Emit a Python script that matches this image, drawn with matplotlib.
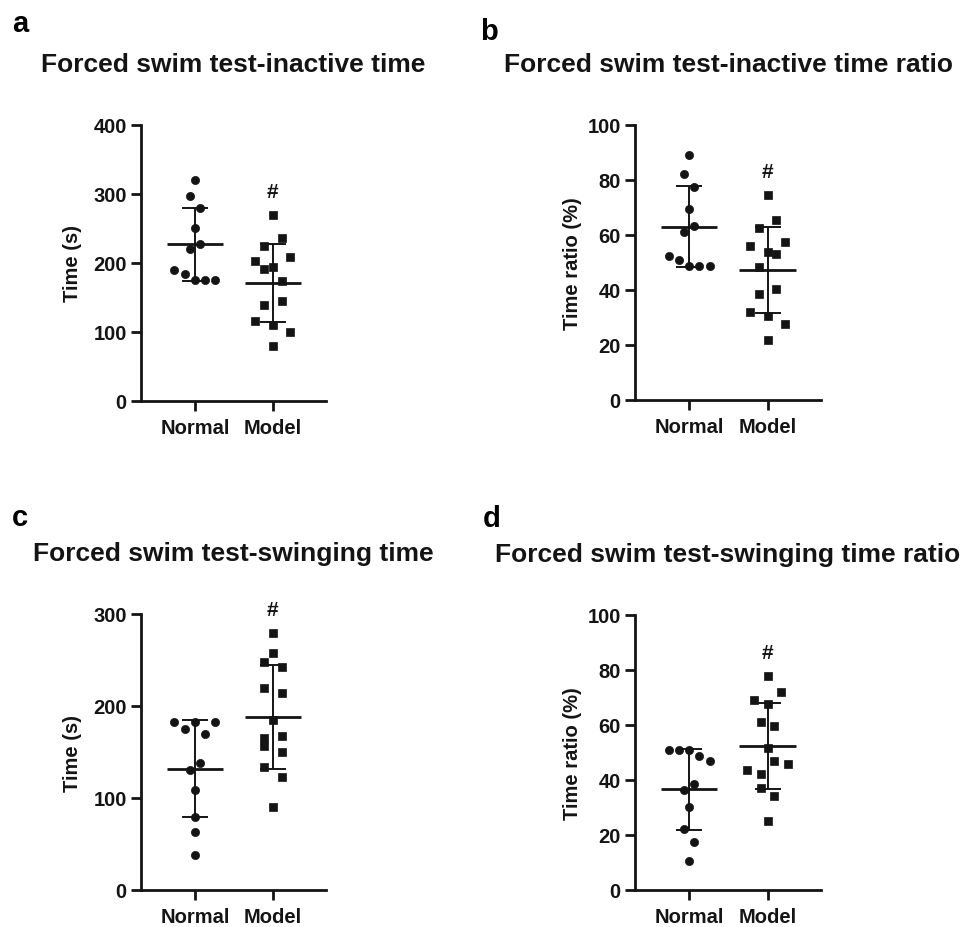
import numpy as np
import matplotlib as mpl
mpl.use('Agg')
import matplotlib.pyplot as plt

plt.rcParams['font.family'] = ['Liberation Sans', 'DejaVu Sans']
plt.rcParams['font.weight'] = 'bold'

groups = ['Normal', 'Model']

# values listed row by row, left to right inside each row of the swarm
inactive_normal = [320, 296, 279, 250, 220, 227.5, 189, 184, 175, 175, 175]
inactive_model = [269, 224.6, 236, 202, 193.7, 208, 191, 174, 139, 145, 115, 110, 100, 79]
inactive_ratio_normal = [89, 82, 77.5, 69.4, 61.1, 63.3, 52.4, 50.8, 48.8, 48.8, 48.8]
inactive_ratio_model = [74.5, 62.5, 65.5, 55.9, 53.6, 57.3, 48.4, 52.9, 38.5, 40.2, 31.8, 30.4, 27.6, 21.9]
swing_normal = [183, 174.6, 183, 169.5, 183, 130.4, 138.4, 108.7, 79, 62.7, 38]
swing_model = [279, 258, 248, 242.8, 219.6, 213.8, 184.8, 165.2, 167.8, 157, 150.5, 134, 122.5, 90]
swing_ratio_normal = [50.8, 50.8, 50.8, 48.7, 46.9, 36.2, 38.4, 30.2, 21.9, 17.3, 10.4]
swing_ratio_model = [77.7, 69.1, 67.5, 71.8, 61, 59.4, 51.4, 43.6, 42.1, 46.7, 45.8, 37.1, 34.1, 25]

panels = [
    ('a', 'Forced swim test-inactive time', 'Time (s)', 400, 100,
     inactive_normal, inactive_model),
    ('b', 'Forced swim test-inactive time ratio', 'Time ratio (%)', 100, 20,
     inactive_ratio_normal, inactive_ratio_model),
    ('c', 'Forced swim test-swinging time', 'Time (s)', 300, 100,
     swing_normal, swing_model),
    ('d', 'Forced swim test-swinging time ratio', 'Time ratio (%)', 100, 20,
     swing_ratio_normal, swing_ratio_model),
]

W, H = 962, 928
ink = '#141414'

# axes boxes in pixels: left, right, top, bottom
boxes = [(141, 326, 125.7, 401.7), (635, 821, 125.7, 401),
         (141, 326, 615, 891), (635, 821, 615.7, 890.7)]
letter_pos = [(12, 32), (480, 40), (12, 526), (483, 527)]
ylabel_x = [-0.32, -0.285, -0.32, -0.285]
XLIM = (-0.69, 1.68)


def swarm_offsets(ax, values, thresh_px=13, span_px=41, max_step_px=17.5):
    # group close values into rows and centre each row on the column
    values = np.asarray(values, dtype=float)
    y0, y1 = ax.get_ylim()
    x0, x1 = ax.get_xlim()
    py = ax.bbox.height / (y1 - y0)
    px = ax.bbox.width / (x1 - x0)
    order = np.argsort(values, kind='stable')
    rows, cur, start = [], [], None
    for i in order:
        if cur and (values[i] - values[start]) * py > thresh_px:
            rows.append(cur)
            cur = []
        if not cur:
            start = i
        cur.append(i)
    rows.append(cur)
    nmax = max(len(r) for r in rows)
    step = min(max_step_px, span_px / (nmax - 1)) if nmax > 1 else 0
    offs = np.zeros(len(values))
    for r in rows:
        r = sorted(r)
        for k, i in enumerate(r):
            offs[i] = (k - (len(r) - 1) / 2) * step / px
    return offs


fig = plt.figure(figsize=(W / 100, H / 100), dpi=100)

for i, (letter, title, ylab, ymax, ystep, normal, model) in enumerate(panels):
    l, r, t, b = boxes[i]
    ax = fig.add_axes([l / W, 1 - b / H, (r - l) / W, (b - t) / H])
    ax.set_xlim(*XLIM)
    ax.set_ylim(0, ymax)

    for xi, (vals, marker, ms) in enumerate([(normal, 'o', 5.9), (model, 's', 5.5)]):
        vals = np.asarray(vals, dtype=float)
        offs = swarm_offsets(ax, vals)
        ax.plot(xi + offs, vals, ls='none', marker=marker, ms=ms,
                color=ink, mec=ink, mew=0.5, clip_on=False, zorder=3)
        m = vals.mean()
        sd = vals.std(ddof=1)
        ax.hlines(m, xi - 0.36, xi + 0.36, color=ink, lw=2.0, zorder=4)
        ax.vlines(xi, m - sd, m + sd, color=ink, lw=1.4, zorder=4)
        ax.hlines([m - sd, m + sd], xi - 0.167, xi + 0.167, color=ink, lw=1.4, zorder=4)

    ax.text(1, max(model) + 0.085 * ymax, '#', ha='center', va='center',
            fontsize=15, fontweight='bold', color=ink)

    ax.set_xticks([0, 1])
    ax.set_xticklabels(groups)
    ax.set_yticks(np.arange(0, ymax + 1, ystep))
    for s in ['top', 'right']:
        ax.spines[s].set_visible(False)
    for s in ['left', 'bottom']:
        ax.spines[s].set_linewidth(2.0)
        ax.spines[s].set_color(ink)
    ax.tick_params(axis='both', length=7.2, width=2.0, color=ink,
                   labelsize=14.5, labelcolor=ink)
    ax.tick_params(axis='x', pad=5)
    ax.tick_params(axis='y', pad=3)
    for lab in ax.get_xticklabels() + ax.get_yticklabels():
        lab.set_fontweight('bold')

    ax.set_ylabel(ylab, fontsize=14.5, fontweight='bold', color=ink)
    ax.yaxis.set_label_coords(ylabel_x[i], 0.5)

    fig.text((l + r) / 2 / W, 1 - (t - 54) / H, title, ha='center',
             va='baseline', fontsize=19, fontweight='bold', color=ink)
    lx, ly = letter_pos[i]
    fig.text(lx / W, 1 - ly / H, letter, ha='left', va='baseline',
             fontsize=21, fontweight='bold', color='black')

fig.savefig('out.png', dpi=100, facecolor='white')
